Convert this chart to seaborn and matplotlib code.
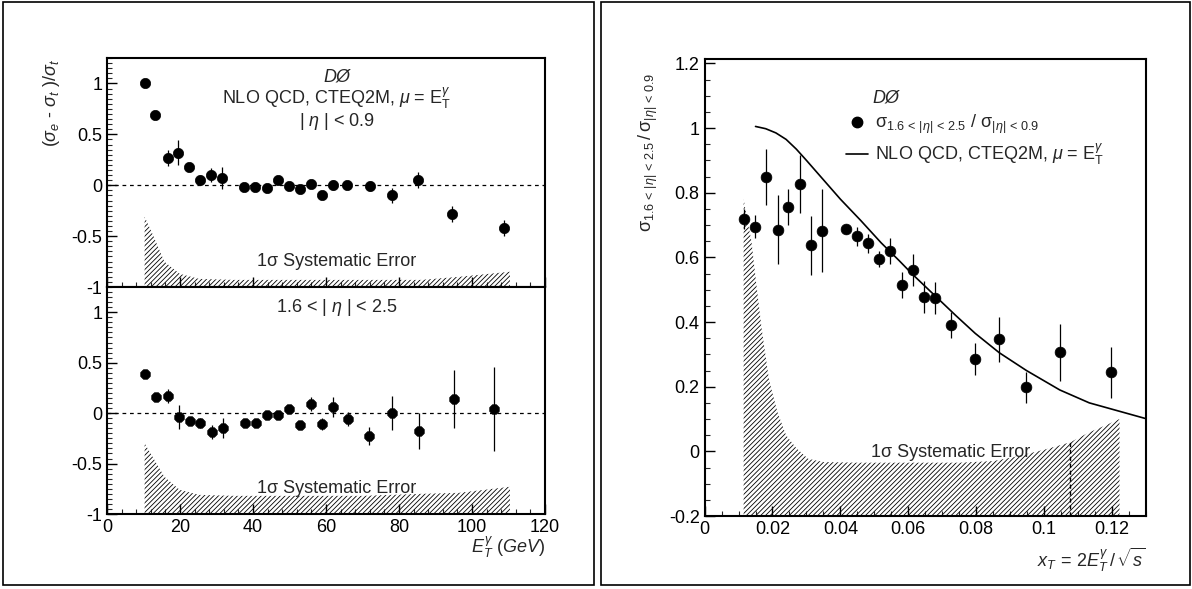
import numpy as np
import pandas as pd
import matplotlib
matplotlib.use('Agg')
import matplotlib.pyplot as plt
import seaborn as sns
from matplotlib.patches import Rectangle
from matplotlib.lines import Line2D
from matplotlib.ticker import MultipleLocator, FormatStrFormatter

# --- datos: |eta| < 0.9 ---
et_c = [10.4, 13.2, 16.6, 19.5, 22.4, 25.5, 28.5, 31.5, 37.6, 40.6, 43.8, 46.8, 49.9,
        52.9, 55.9, 58.9, 61.8, 65.8, 72.1, 78.2, 85.3, 94.6, 108.7]
diff_c = [1.0, 0.69, 0.27, 0.32, 0.18, 0.05, 0.10, 0.07, -0.02, -0.02, -0.03, 0.05, -0.01,
          -0.04, 0.01, -0.10, 0.0, 0.0, -0.01, -0.10, 0.05, -0.28, -0.42]
err_c = [0.02, 0.03, 0.08, 0.12, 0.04, 0.05, 0.07, 0.11, 0.02, 0.02, 0.02, 0.02, 0.02,
         0.02, 0.02, 0.04, 0.05, 0.03, 0.05, 0.07, 0.08, 0.08, 0.08]

# --- datos: 1.6 < |eta| < 2.5 ---
et_f = [10.4, 13.5, 16.6, 19.6, 22.7, 25.6, 28.7, 31.7, 37.8, 40.8, 43.9, 46.8, 49.8,
        52.8, 55.9, 58.8, 61.8, 66.1, 71.8, 78.2, 85.5, 95.2, 105.9]
diff_f = [0.39, 0.155, 0.17, -0.04, -0.08, -0.10, -0.19, -0.15, -0.10, -0.10, -0.02, -0.02, 0.04,
          -0.12, 0.09, -0.11, 0.06, -0.06, -0.23, 0.0, -0.18, 0.14, 0.04]
err_f = [0.02, 0.02, 0.07, 0.12, 0.03, 0.05, 0.07, 0.10, 0.03, 0.03, 0.03, 0.03, 0.03,
         0.04, 0.07, 0.06, 0.10, 0.07, 0.09, 0.17, 0.18, 0.29, 0.42]

# bandas de error sistematico (borde superior, el inferior es -1)
sys_x = [10.3, 12.6, 15.7, 19.9, 25.2, 35, 50, 70, 86, 96.4, 110.4]
sys_c = [-0.31, -0.49, -0.75, -0.87, -0.92, -0.93, -0.93, -0.93, -0.93, -0.90, -0.85]
sys_f = [-0.30, -0.44, -0.63, -0.76, -0.81, -0.82, -0.82, -0.82, -0.80, -0.79, -0.73]

# --- cociente vs x_T ---
xt = [0.0115, 0.0149, 0.0182, 0.0215, 0.0247, 0.0281, 0.0313, 0.0347, 0.0416, 0.0448, 0.048,
      0.0513, 0.0546, 0.058, 0.0613, 0.0647, 0.068, 0.0727, 0.0796, 0.0868, 0.0948, 0.1046, 0.1198]
ratio = [0.719, 0.695, 0.849, 0.686, 0.756, 0.827, 0.637, 0.683, 0.687, 0.665, 0.643,
         0.595, 0.619, 0.514, 0.561, 0.478, 0.475, 0.39, 0.286, 0.347, 0.198, 0.306, 0.244]
ratio_err = [0.03, 0.035, 0.087, 0.107, 0.055, 0.09, 0.09, 0.127, 0.015, 0.03, 0.03,
             0.025, 0.04, 0.04, 0.05, 0.05, 0.05, 0.04, 0.05, 0.07, 0.048, 0.088, 0.08]

nlo_x = [0.015, 0.018, 0.021, 0.024, 0.027, 0.030, 0.035, 0.040, 0.046, 0.052, 0.0573,
         0.0612, 0.065, 0.0685, 0.074, 0.0797, 0.0868, 0.0948, 0.1046, 0.1133, 0.1297]
nlo_y = [1.005, 0.998, 0.985, 0.965, 0.935, 0.90, 0.84, 0.78, 0.714, 0.645, 0.59,
         0.548, 0.51, 0.475, 0.42, 0.365, 0.305, 0.25, 0.19, 0.15, 0.102]

sysr_x = [0.0115, 0.0125, 0.0138, 0.0151, 0.0168, 0.019, 0.0215, 0.024, 0.027, 0.0305, 0.035,
          0.045, 0.06, 0.075, 0.085, 0.091, 0.1, 0.1077, 0.1133, 0.118, 0.1222]
sysr_y = [0.78, 0.72, 0.65, 0.53, 0.38, 0.22, 0.12, 0.05, 0.01, -0.023, -0.033,
          -0.035, -0.035, -0.035, -0.03, -0.018, 0.005, 0.028, 0.059, 0.08, 0.10]
xt_dash = 0.1077

sns.set_theme(style='ticks')
plt.rcParams['font.family'] = ['Liberation Sans', 'DejaVu Sans']
plt.rcParams['mathtext.fontset'] = 'custom'
plt.rcParams['mathtext.rm'] = 'Liberation Sans'
plt.rcParams['mathtext.it'] = 'Liberation Sans:italic'
plt.rcParams['axes.unicode_minus'] = False
plt.rcParams['hatch.linewidth'] = 0.6
plt.rcParams['xtick.direction'] = 'in'
plt.rcParams['ytick.direction'] = 'in'

FS = 13
HATCH = '///////'
fig = plt.figure(figsize=(11.92, 5.89), dpi=100)

# marcos exteriores
for x0, w in [(0.0025, 0.4958), (0.5042, 0.4941)]:
    fig.patches.append(Rectangle((x0, 0.0068), w, 0.9898, transform=fig.transFigure,
                                 fill=False, edgecolor='black', linewidth=1.2))

ax_t = fig.add_axes([0.0898, 0.5127, 0.3674, 0.3888])
ax_b = fig.add_axes([0.0898, 0.1273, 0.3674, 0.3854])
ax_r = fig.add_axes([0.5911, 0.1239, 0.3703, 0.7767])

def estilo(ax):
    for s in ax.spines.values():
        s.set_linewidth(1.5)
        s.set_color('black')
    ax.tick_params(which='major', length=7, width=1, labelsize=FS, colors='black')
    ax.tick_params(which='minor', length=3.5, width=0.8)
    ax.set_facecolor('white')

panel_data = [(ax_t, et_c, diff_c, err_c, sys_c, 'o'), (ax_b, et_f, diff_f, err_f, sys_f, '8')]
for ax, xs, ys, es, band, mk in panel_data:
    estilo(ax)
    ax.fill_between(sys_x, -1, band, facecolor='none', edgecolor='black', hatch=HATCH, linewidth=0)
    ax.axhline(0, color='black', linestyle=(0, (3, 3)), linewidth=0.9)
    ax.errorbar(xs, ys, yerr=es, fmt='none', ecolor='black', elinewidth=0.9)
    df = pd.DataFrame({'et': xs, 'd': ys})
    sns.scatterplot(data=df, x='et', y='d', ax=ax, color='black', marker=mk, s=55,
                    edgecolor='black', linewidth=0.5, legend=False, zorder=3)
    ax.set_xlim(0, 120)
    ax.set_ylim(-1, 1.25)
    ax.xaxis.set_major_locator(MultipleLocator(20))
    ax.xaxis.set_minor_locator(MultipleLocator(4))
    ax.yaxis.set_major_locator(MultipleLocator(0.5))
    ax.yaxis.set_minor_locator(MultipleLocator(0.05))
    ax.yaxis.set_major_formatter(FormatStrFormatter('%g'))
    ax.set_xlabel('')
    ax.set_ylabel('')
    ax.text(63, -0.75, '1σ Systematic Error', ha='center', va='center', fontsize=FS)

ax_t.tick_params(labelbottom=False)
ax_t.text(63, 1.06, 'DØ', ha='center', va='center', fontsize=FS, style='italic')
ax_t.text(63, 0.85, r'NLO QCD, CTEQ2M, $\mu$ = E$_\mathrm{T}^{\gamma}$', ha='center', va='center', fontsize=FS)
ax_t.text(63, 0.63, r'| $\eta$ | < 0.9', ha='center', va='center', fontsize=FS)
ax_b.text(63, 1.05, r'1.6 < | $\eta$ | < 2.5', ha='center', va='center', fontsize=FS)
ax_b.xaxis.set_major_formatter(FormatStrFormatter('%g'))

fig.text(52 / 1192, 1 - 103 / 589, r'$(\sigma_{e}\ $-$\ \sigma_{t}\ )/\sigma_{t}$', rotation=90,
         ha='center', va='center', fontsize=FS)
fig.text(545 / 1192, 1 - 547 / 589, r'$E_T^{\gamma}$ $(GeV)$', ha='right', va='center', fontsize=FS)

# panel derecho
estilo(ax_r)
ax_r.fill_between(sysr_x, -0.2, sysr_y, facecolor='none', edgecolor='black', hatch=HATCH, linewidth=0)
ax_r.vlines(xt_dash, -0.2, np.interp(xt_dash, sysr_x, sysr_y), colors='black',
            linestyles=(0, (3, 2)), linewidth=1)
ax_r.errorbar(xt, ratio, yerr=ratio_err, fmt='none', ecolor='black', elinewidth=0.9)
sns.scatterplot(x=xt, y=ratio, ax=ax_r, color='black', marker='o', s=60, edgecolor='black',
                linewidth=0.5, legend=False, zorder=3)
sns.lineplot(x=nlo_x, y=nlo_y, ax=ax_r, color='black', linewidth=1.2, sort=False, estimator=None)
ax_r.set_xlim(0, 0.13)
ax_r.set_ylim(-0.2, 1.215)
ax_r.xaxis.set_major_locator(MultipleLocator(0.02))
ax_r.xaxis.set_minor_locator(MultipleLocator(0.005))
ax_r.yaxis.set_major_locator(MultipleLocator(0.2))
ax_r.yaxis.set_minor_locator(MultipleLocator(0.05))
ax_r.xaxis.set_major_formatter(FormatStrFormatter('%g'))
ax_r.yaxis.set_major_formatter(FormatStrFormatter('%g'))
ax_r.text(0.0725, -0.005, '1σ Systematic Error', ha='center', va='center', fontsize=FS)
ax_r.text(0.0534, 1.094, 'DØ', ha='center', va='center', fontsize=FS, style='italic')

handles = [Line2D([], [], marker='o', color='black', linestyle='none', markersize=7.5),
           Line2D([], [], color='black', linewidth=1.2)]
labels = [r'$\mathrm{\sigma}_{1.6\,<\,|\eta|\,<\,2.5}\ /\ \mathrm{\sigma}_{|\eta|\,<\,0.9}$',
          r'NLO QCD, CTEQ2M, $\mu$ = E$_\mathrm{T}^{\gamma}$']
ax_r.legend(handles, labels, loc='upper left', bbox_to_anchor=(0.0395, 1.07),
            bbox_transform=ax_r.transData, frameon=False, fontsize=FS,
            handlelength=1.2, handletextpad=0.4, labelspacing=0.35, borderaxespad=0)

fig.text(648 / 1192, 1 - 152 / 589,
         r'$\mathrm{\sigma}_{\mathit{1.6\,<\,|\eta|\,<\,2.5}}\,/\,\mathrm{\sigma}_{\mathit{|\eta|\,<\,0.9}}$',
         rotation=90, ha='center', va='center', fontsize=FS)
fig.text(1146 / 1192, 1 - 560 / 589, r'$x_T\,=\,2E_T^{\gamma}\,/\,\sqrt{s}$', ha='right', va='center', fontsize=FS)

fig.savefig('out.png', dpi=100)
plt.close(fig)
